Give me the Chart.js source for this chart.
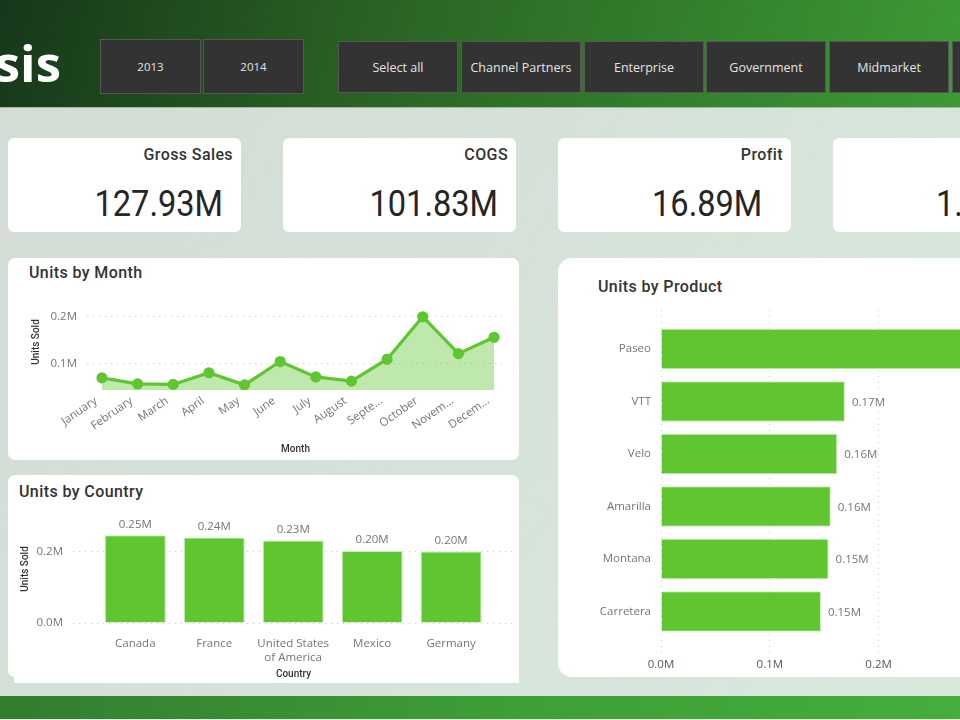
<!DOCTYPE html>
<html>
<head>
<meta charset="utf-8">
<title>Sales Analysis</title>
<script src="https://cdn.jsdelivr.net/npm/chart.js@4"></script>
<style>
html, body { margin: 0; padding: 0; width: 960px; height: 720px; overflow: hidden; }
body { position: relative; background: linear-gradient(125deg, #d3dbd5, #d8e9dc); font-family: "Open Sans", sans-serif; }
.abs { position: absolute; }
#header { left: 0; top: 0; width: 960px; height: 107px; background: linear-gradient(105deg, #17371a 0%, #2a6424 40%, #3d9a36 100%); border-bottom: 1px solid #9db89b; }
#footer { left: 0; top: 696px; width: 960px; height: 23px; background: linear-gradient(90deg, #327d30 0%, #3ea035 55%, #45ad3d 100%); }
#bottomStrip { left: 0; top: 719px; width: 960px; height: 1px; background: #eef3ef; }
#name { right: 899px; top: 24px; color: #fff; font: bold 51px "Open Sans", sans-serif; line-height: 76px; }
.btn { box-sizing: border-box; background: #333; border: 1px solid #565656; color: #e4e4e4; display: flex; align-items: center; justify-content: center; font-size: 12.5px; white-space: nowrap; overflow: hidden; padding-top: 1px; }
.year { top: 39px; height: 55px; font-size: 11.5px; padding-top: 0; }
.seg { top: 41px; height: 52px; }
.card { background: #fff; }
.kpi { top: 138px; height: 94px; border-radius: 6px; width: 233px; }
.kpiLabel { position: absolute; right: 8px; top: 7px; font: 500 16px Roboto, sans-serif; color: #333; letter-spacing: 0.4px; }
.kpiValue { position: absolute; right: 18px; top: 44px; font: 400 37px Roboto, sans-serif; color: #252525; line-height: 44px; transform: scaleX(0.88); transform-origin: right center; }
.chartTitle { font: 500 16px Roboto, sans-serif; color: #333; white-space: nowrap; letter-spacing: 0.4px; }
canvas { position: absolute; }
</style>
</head>
<body>
<div class="abs" id="header"></div>
<div class="abs" id="name">sis</div>
<div class="abs btn year" style="left:100px;width:101px">2013</div>
<div class="abs btn year" style="left:203px;width:101px">2014</div>
<div class="abs btn seg" style="left:338px;width:120px">Select all</div>
<div class="abs btn seg" style="left:461px;width:120px">Channel Partners</div>
<div class="abs btn seg" style="left:584px;width:120px">Enterprise</div>
<div class="abs btn seg" style="left:706px;width:120px">Government</div>
<div class="abs btn seg" style="left:829px;width:120px">Midmarket</div>
<div class="abs btn seg" style="left:952px;width:120px"></div>

<div class="abs card kpi" style="left:8px"><div class="kpiLabel">Gross Sales</div><div class="kpiValue">127.93M</div></div>
<div class="abs card kpi" style="left:283px"><div class="kpiLabel">COGS</div><div class="kpiValue">101.83M</div></div>
<div class="abs card kpi" style="left:558px"><div class="kpiLabel">Profit</div><div class="kpiValue" style="right:29px">16.89M</div></div>
<div class="abs card kpi" style="left:833px;width:160px"><div class="kpiValue" style="left:103px;right:auto;transform-origin:left center">1.</div></div>

<div class="abs card" style="left:8px;top:258px;width:511px;height:202px;border-radius:7px"></div>
<div class="abs chartTitle" style="left:29px;top:263px">Units by Month</div>
<canvas id="monthChart" style="left:8px;top:258px"></canvas>

<div class="abs card" style="left:14px;top:600px;width:505px;height:83px"></div>
<div class="abs card" style="left:8px;top:475px;width:511px;height:202px;border-radius:7px"></div>
<div class="abs chartTitle" style="left:19px;top:482px">Units by Country</div>
<canvas id="countryChart" style="left:8px;top:475px"></canvas>

<div class="abs card" style="left:558px;top:258px;width:560px;height:419px;border-radius:14px"></div>
<div class="abs chartTitle" style="left:598px;top:277px">Units by Product</div>
<canvas id="productChart" style="left:558px;top:258px"></canvas>

<div class="abs" id="footer"></div>
<div class="abs" id="bottomStrip"></div>

<script>
const months = ['January', 'February', 'March', 'April', 'May', 'June', 'July', 'August', 'Septe...', 'October', 'Novem...', 'Decem...'];
const monthUnits = [0.069, 0.056, 0.055, 0.080, 0.054, 0.104, 0.071, 0.062, 0.109, 0.200, 0.121, 0.156];
const monthTicks = [0.1, 0.2];

const countries = ['Canada', 'France', ['United States', 'of America'], 'Mexico', 'Germany'];
const countryUnits = [0.247, 0.241, 0.232, 0.203, 0.201];
const countryTicks = [0.0, 0.2];

const products = ['Paseo', 'VTT', 'Velo', 'Amarilla', 'Montana', 'Carretera'];
const productUnits = [0.338, 0.169, 0.162, 0.156, 0.154, 0.147];
const productTicks = [0.0, 0.1, 0.2, 0.3];

const GREEN = '#5fc62f';
const EDGE = '#c8edbc';
const TICK_GREY = '#757575';
const GRID = '#c9c9c9';
const TICK_FONT = { family: '"Open Sans", sans-serif', size: 11.5 };
const AXIS_TITLE_FONT = { family: 'Roboto, sans-serif', size: 10, weight: '500' };

function fmtM(v, digits) {
    return v.toFixed(digits) + 'M';
}

function setTicks(values) {
    return function (scale) {
        scale.ticks = values.map(function (v) { return { value: v }; });
    };
}

function fixSize(px, prop) {
    return function (scale) { scale[prop] = px; };
}

function makeCanvas(id, w, h) {
    const c = document.getElementById(id);
    c.width = w;
    c.height = h;
    c.style.width = w + 'px';
    c.style.height = h + 'px';
    return c.getContext('2d');
}

// draws the value above or beside every bar
const barLabels = {
    id: 'barLabels',
    afterDatasetsDraw(chart) {
        const ctx = chart.ctx;
        const meta = chart.getDatasetMeta(0);
        const values = chart.data.datasets[0].data;
        ctx.save();
        ctx.font = '11.5px "Open Sans", sans-serif';
        ctx.fillStyle = TICK_GREY;
        ctx.textBaseline = 'middle';
        meta.data.forEach(function (bar, i) {
            if (chart.options.indexAxis === 'y') {
                ctx.textAlign = 'left';
                ctx.fillText(fmtM(values[i].x, 2), bar.x + 7, bar.y + 1);
            } else {
                ctx.textAlign = 'center';
                ctx.fillText(fmtM(values[i].y, 2), bar.x, bar.y - 11);
            }
        });
        ctx.restore();
    }
};

Chart.defaults.animation = false;
Chart.defaults.responsive = false;
Chart.defaults.plugins.legend.display = false;
Chart.defaults.plugins.tooltip.enabled = false;

// Units by Month
new Chart(makeCanvas('monthChart', 511, 202), {
    type: 'line',
    data: {
        datasets: [{
            data: monthUnits.map(function (v, i) { return { x: i, y: v }; }),
            borderColor: GREEN,
            borderWidth: 3.2,
            backgroundColor: 'rgba(95,198,47,0.4)',
            fill: 'origin',
            pointBackgroundColor: GREEN,
            pointBorderColor: GREEN,
            pointRadius: 4,
            tension: 0
        }]
    },
    options: {
        layout: { padding: { top: 36, right: 15, bottom: 5, left: 0 } },
        scales: {
            x: {
                type: 'linear', bounds: 'data', min: -0.42, max: 11.28,
                afterBuildTicks: setTicks(months.map(function (m, i) { return i; })),
                afterFit: fixSize(65, 'height'),
                grid: { display: false },
                border: { display: false },
                ticks: {
                    autoSkip: false, minRotation: 35, maxRotation: 35, padding: -4, labelOffset: -6,
                    color: TICK_GREY, font: TICK_FONT,
                    callback: function (v) { return months[v]; }
                },
                title: { display: true, text: 'Month', color: '#333', font: AXIS_TITLE_FONT, padding: 0 }
            },
            y: {
                min: 0.043, max: 0.2487,
                afterBuildTicks: setTicks(monthTicks),
                afterFit: fixSize(79, 'width'),
                grid: { color: GRID, drawTicks: false },
                border: { display: false, dash: [1, 5] },
                ticks: { color: TICK_GREY, font: TICK_FONT, padding: 10, callback: function (v) { return fmtM(v, 1); } },
                title: { display: true, text: 'Units Sold', color: '#333', font: AXIS_TITLE_FONT, padding: { top: 22, bottom: 0 } }
            }
        }
    }
});

// Units by Country
new Chart(makeCanvas('countryChart', 511, 208), {
    type: 'bar',
    data: {
        datasets: [{
            data: countryUnits.map(function (v, i) { return { x: i, y: v }; }),
            backgroundColor: GREEN,
            borderColor: EDGE,
            borderWidth: 1,
            categoryPercentage: 1,
            barPercentage: 0.772
        }]
    },
    options: {
        layout: { padding: { top: 40, right: 5, bottom: 3, left: 0 } },
        scales: {
            x: {
                type: 'linear', bounds: 'data', offset: false, min: -0.789, max: 4.797,
                afterBuildTicks: setTicks(countries.map(function (c, i) { return i; })),
                afterFit: fixSize(57, 'height'),
                grid: { display: false },
                border: { display: false },
                ticks: {
                    autoSkip: false, maxRotation: 0, padding: 6,
                    color: TICK_GREY, font: TICK_FONT,
                    callback: function (v) { return countries[v]; }
                },
                title: { display: true, text: 'Country', color: '#333', font: AXIS_TITLE_FONT, padding: 0 }
            },
            y: {
                min: 0, max: 0.304,
                afterBuildTicks: setTicks(countryTicks),
                afterFit: fixSize(65, 'width'),
                grid: { color: GRID, drawTicks: false },
                border: { display: false, dash: [1, 5] },
                ticks: { color: TICK_GREY, font: TICK_FONT, padding: 10, callback: function (v) { return fmtM(v, 1); } },
                title: { display: true, text: 'Units Sold', color: '#333', font: AXIS_TITLE_FONT, padding: { top: 11, bottom: 0 } }
            }
        }
    },
    plugins: [barLabels]
});

// Units by Product, the Paseo bar runs off the right side of the page as in the picture
new Chart(makeCanvas('productChart', 560, 419), {
    type: 'bar',
    data: {
        datasets: [{
            data: productUnits.map(function (v, i) { return { x: v, y: i }; }),
            backgroundColor: GREEN,
            borderColor: EDGE,
            borderWidth: 1,
            categoryPercentage: 1,
            barPercentage: 0.771
        }]
    },
    options: {
        indexAxis: 'y',
        layout: { padding: { top: 52, right: 0, bottom: 0, left: 0 } },
        scales: {
            x: {
                position: 'bottom',
                min: 0, max: 0.42,
                afterBuildTicks: setTicks(productTicks),
                afterFit: fixSize(24, 'height'),
                grid: { color: GRID, drawTicks: false },
                border: { display: false, dash: [1, 5] },
                ticks: { color: '#4f5b5b', font: TICK_FONT, padding: 5, callback: function (v) { return fmtM(v, 1); } }
            },
            y: {
                type: 'linear', bounds: 'data', offset: false, reverse: true, min: -0.743, max: 5.79,
                afterBuildTicks: setTicks(products.map(function (p, i) { return i; })),
                afterFit: fixSize(103, 'width'),
                grid: { display: false },
                border: { display: false },
                ticks: {
                    autoSkip: false, color: TICK_GREY, font: TICK_FONT, padding: 2,
                    callback: function (v) { return products[v]; }
                }
            }
        }
    },
    plugins: [barLabels]
});
</script>
</body>
</html>
